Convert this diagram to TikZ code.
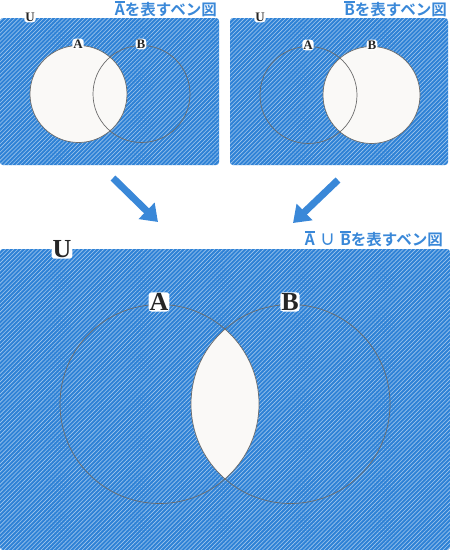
\documentclass[tikz,border=0pt]{standalone}
\usepackage{fontspec}
\newfontfamily\jpfont{Noto Sans CJK JP}[BoldFont={Noto Sans CJK JP Bold}]
\newfontfamily\lblfont{Liberation Serif}
\usetikzlibrary{arrows.meta, patterns.meta}
\definecolor{panelblue}{HTML}{2F82D6}
\definecolor{titleblue}{HTML}{3A88D8}
\definecolor{ringgray}{HTML}{6B6B6B}
\definecolor{paper}{HTML}{FAF9F7}
\newcommand{\ovl}[1]{\leavevmode\vbox{\hrule height 1.5pt\kern1.4pt\hbox{#1}}}
\tikzstyle{panel} = [rounded corners=3pt, preaction={fill=panelblue}, pattern={Lines[angle=45,distance=2.9pt,line width=0.6pt]}, pattern color=white!55!panelblue]
\tikzstyle{ring} = [draw=ringgray, line width=0.7pt]
\tikzstyle{halo} = [fill=white, rounded corners=3pt, inner sep=1pt, text=black!85]
\tikzstyle{title} = [anchor=east, text=titleblue, font=\jpfont\bfseries\fontsize{15.5}{15.5}\selectfont, inner sep=0pt]
\tikzstyle{bigarrow} = [draw=titleblue, line width=7pt, -{Triangle[length=16pt,width=22pt]}]

\begin{document}
\begin{tikzpicture}[x=1pt, y=-1pt]
\useasboundingbox (0,0) rectangle (450,550);

% Top left: complement of A
\path[panel] (0,18) rectangle (219,165);
\fill[paper] (78.5,94) circle (48.5);
\draw[ring] (78.5,94) circle (48.5);
\draw[ring] (141.5,94) circle (48.5);
\node (uL) [halo, font=\lblfont\bfseries\fontsize{13}{13}\selectfont] at (30,17) {U};
\node (aL) [halo, font=\lblfont\bfseries\fontsize{13}{13}\selectfont] at (78,44) {A};
\node (bL) [halo, font=\lblfont\bfseries\fontsize{13}{13}\selectfont] at (141,44) {B};
\node (tL) [title] at (217,9) {\ovl{A}を表すベン図};

% Top right: complement of B
\path[panel] (230,18) rectangle (448,165);
\fill[paper] (371.5,95) circle (48.5);
\draw[ring] (308.5,95) circle (48.5);
\draw[ring] (371.5,95) circle (48.5);
\node (uR) [halo, font=\lblfont\bfseries\fontsize{13}{13}\selectfont] at (260,17) {U};
\node (aR) [halo, font=\lblfont\bfseries\fontsize{13}{13}\selectfont] at (308,45) {A};
\node (bR) [halo, font=\lblfont\bfseries\fontsize{13}{13}\selectfont] at (372,45) {B};
\node (tR) [title] at (447,9) {\ovl{B}を表すベン図};

% Arrows
\coordinate (arL) at (113,178);
\coordinate (arLend) at (158,222);
\coordinate (arR) at (338,180);
\coordinate (arRend) at (293,223);
\draw [bigarrow] (arL) -- (arLend);
\draw [bigarrow] (arR) -- (arRend);

% Bottom: union of complements
\path[panel] (0,249) rectangle (450,550);
\begin{scope}
\clip (159.5,404) circle (99.5);
\fill[paper] (290.5,404) circle (99.5);
\end{scope}
\draw[ring] (159.5,404) circle (99.5);
\draw[ring] (290.5,404) circle (99.5);
\node (uB) [halo, font=\lblfont\bfseries\fontsize{26}{26}\selectfont] at (62,249) {U};
\node (aB) [halo, font=\lblfont\bfseries\fontsize{26}{26}\selectfont] at (159,302) {A};
\node (bB) [halo, font=\lblfont\bfseries\fontsize{26}{26}\selectfont] at (290,302) {B};
\node (tB) [title] at (443,239) {\ovl{A}\hspace{5pt}∪\hspace{5pt}\ovl{B}を表すベン図};

\end{tikzpicture}
\end{document}
